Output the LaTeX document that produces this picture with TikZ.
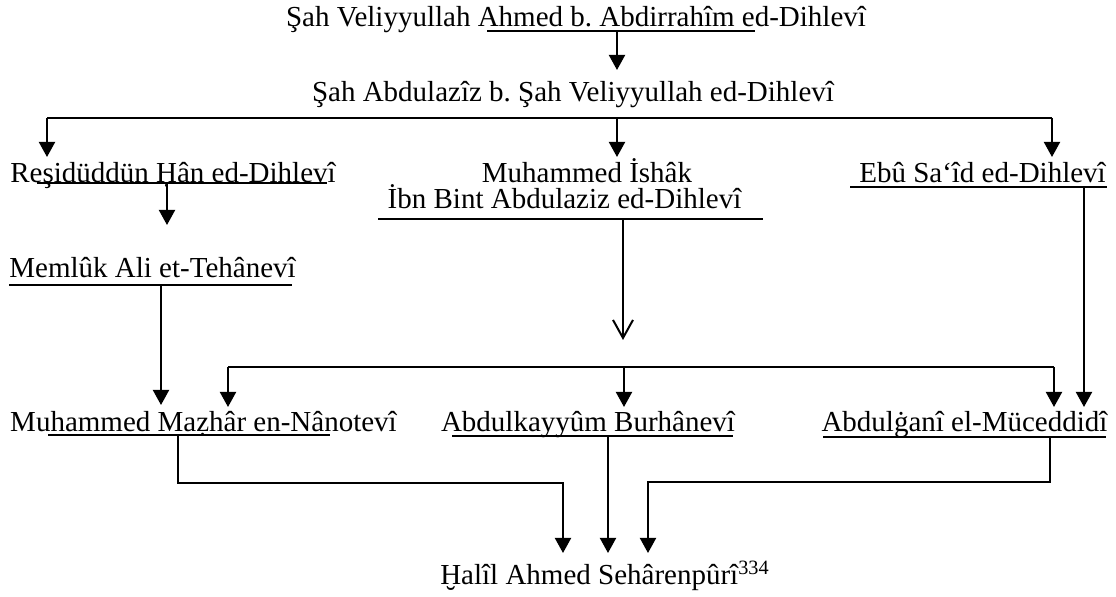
\documentclass[tikz,border=0pt]{standalone}
\usepackage{fontspec}
\setmainfont{Liberation Serif}
\usetikzlibrary{arrows.meta}
\frenchspacing
\begin{document}
\begin{tikzpicture}[x=0.5pt,y=-0.5pt,line width=1pt,line join=miter,
  lbl/.style={anchor=base,inner sep=0pt,font=\fontsize{14.5}{16}\selectfont},
  tip/.style={-{Triangle[length=7.5pt,width=8pt]}},
  barb/.style={-{Straight Barb[length=9pt,width=10pt,line width=1pt]}}]
\useasboundingbox (0,0) rectangle (1116,597);
% texts
\node[lbl] (n1) at (576,27) {Şah Veliyyullah Ahmed b. Abdirrahîm ed-Dihlevî};
\node[lbl] (n2) at (573,102) {Şah Abdulazîz b. Şah Veliyyullah ed-Dihlevî};
\node[lbl] (n3) at (173,183) {Reşidüddün Ḥân ed-Dihlevî};
\node[lbl] (n4a) at (587,183) {Muhammed İshâk};
\node[lbl] (n4b) at (564.5,209) {İbn Bint Abdulaziz ed-Dihlevî};
\node[lbl] (n5) at (982.5,183) {Ebû Sa‘îd ed-Dihlevî};
\node[lbl] (n6) at (152.5,278) {Memlûk Ali et-Tehânevî};
\node[lbl] (n7) at (203.5,432) {Muhammed Maẓhâr en-Nânotevî};
\node[lbl] (n8) at (588,432) {Abdulkayyûm Burhânevî};
\node[lbl] (n9) at (964.5,432) {Abdulġanî el-Müceddidî};
\node[lbl] (n10) at (605,585) {Ḫalîl Ahmed Sehârenpûrî\textsuperscript{334}};
% underlines
\draw (487,31) -- (755,31);
\draw (37,183.5) -- (327,183.5);
\draw (378,219) -- (763,219);
\draw (850,187) -- (1107,187);
\draw (9,285) -- (292,285);
\draw (48,435) -- (330,435);
\draw (452,436) -- (733,436);
\draw (823,437) -- (1106,437);
% anchor points on the lines
\coordinate (a1) at (617,31);   \coordinate (b1) at (617,70);
\coordinate (hl) at (47,118);   \coordinate (hm) at (617,118); \coordinate (hr) at (1052,118);
\coordinate (t3) at (47,157);   \coordinate (t4) at (617,157); \coordinate (t5) at (1052,157);
\coordinate (a3) at (167,183.5); \coordinate (t6) at (167,225);
\coordinate (a4) at (623,219);  \coordinate (t4b) at (623,340);
\coordinate (a5) at (1084,187); \coordinate (t9b) at (1084,407);
\coordinate (a6) at (161,285);  \coordinate (t7a) at (161,405);
\coordinate (ml) at (228,367);  \coordinate (mm) at (624,367); \coordinate (mr) at (1054,367);
\coordinate (t7b) at (228,407); \coordinate (t8) at (624,407); \coordinate (t9a) at (1054,407);
\coordinate (a7) at (178,435);  \coordinate (a8) at (608,436); \coordinate (a9) at (1050,437);
\coordinate (tl) at (563,553);  \coordinate (tm) at (608,553); \coordinate (tr) at (648,553);
% connectors
\draw[tip] (a1) -- (b1);
\draw (hl) -- (hr);
\draw[tip] (hl) -- (t3);
\draw[tip] (hm) -- (t4);
\draw[tip] (hr) -- (t5);
\draw[tip] (a3) -- (t6);
\draw[barb] (a4) -- (t4b);
\draw[tip] (a5) -- (t9b);
\draw[tip] (a6) -- (t7a);
\draw (ml) -- (mr);
\draw[tip] (ml) -- (t7b);
\draw[tip] (mm) -- (t8);
\draw[tip] (mr) -- (t9a);
\draw[tip] (a7) |- (563,483) -- (tl);
\draw[tip] (a8) -- (tm);
\draw[tip] (a9) |- (648,482) -- (tr);
\end{tikzpicture}
\end{document}
